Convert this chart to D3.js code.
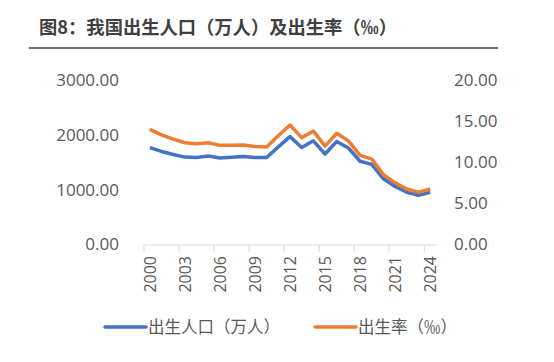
<!DOCTYPE html>
<html>
<head>
<meta charset="utf-8">
<script src="https://cdn.jsdelivr.net/npm/d3@7"></script>
<style>
  body { margin: 0; background: #fff; }
  svg { display: block; }
  .tick text { fill: #595959; }
</style>
</head>
<body>
<svg id="chart"></svg>
<script>
// data
const years = d3.range(2000, 2025);
const births = [1771, 1702, 1647, 1599, 1593, 1617, 1584, 1594, 1608, 1591, 1592,
  1785, 1973, 1776, 1897, 1655, 1883, 1765, 1523, 1465, 1202, 1062, 956, 902, 954];
const birthRate = [14.03, 13.38, 12.86, 12.41, 12.29, 12.40, 12.09, 12.10, 12.14, 11.95, 11.90,
  13.27, 14.57, 13.03, 13.83, 11.99, 13.57, 12.64, 10.86, 10.41, 8.52, 7.52, 6.77, 6.39, 6.77];
const leftTicks = [0, 1000, 2000, 3000];
const rightTicks = [0, 5, 10, 15, 20];
const labelYears = [2000, 2003, 2006, 2009, 2012, 2015, 2018, 2021, 2024];

const W = 554, H = 362;
const font = "'Open Sans', 'Noto Sans CJK SC', sans-serif";
const cjk = "'Noto Sans CJK SC', sans-serif";

const svg = d3.select("#chart").attr("width", W).attr("height", H);

// title + rule
svg.append("text")
  .attr("x", 39).attr("y", 34)
  .attr("font-family", cjk).attr("font-weight", "bold")
  .attr("font-size", 18.3).attr("fill", "#404040")
  .text("图8：我国出生人口（万人）及出生率（‰）");
svg.append("line")
  .attr("x1", 29).attr("x2", 498).attr("y1", 48).attr("y2", 48)
  .attr("stroke", "#404040").attr("stroke-width", 1.5);

const x = d3.scaleBand().domain(years).range([144, 436]).padding(0);
const cx = d => x(d) + x.bandwidth() / 2;
const yL = d3.scaleLinear().domain([0, 3000]).range([244.5, 80.5]);
const yR = d3.scaleLinear().domain([0, 20]).range([244.5, 80.5]);

// left axis
const gL = svg.append("g").attr("transform", "translate(119,0)")
  .call(d3.axisLeft(yL).tickValues(leftTicks).tickFormat(d3.format(".2f")).tickSize(0).tickPadding(0));
gL.select(".domain").remove();
gL.selectAll("text").attr("font-family", font).attr("font-size", 17);

// right axis
const gR = svg.append("g").attr("transform", "translate(454,0)")
  .call(d3.axisRight(yR).tickValues(rightTicks).tickFormat(d3.format(".2f")).tickSize(0).tickPadding(0));
gR.select(".domain").remove();
gR.selectAll("text").attr("font-family", font).attr("font-size", 17);

// x axis
const gX = svg.append("g");
gX.append("line")
  .attr("x1", 144).attr("x2", 436).attr("y1", 245).attr("y2", 245)
  .attr("stroke", "#d9d9d9").attr("stroke-width", 1);
gX.selectAll("line.tk")
  .data(labelYears)
  .join("line")
  .attr("class", "tk")
  .attr("x1", d => x(d)).attr("x2", d => x(d))
  .attr("y1", 245).attr("y2", 252)
  .attr("stroke", "#d9d9d9");
gX.selectAll("text")
  .data(labelYears)
  .join("text")
  .attr("transform", d => `translate(${cx(d) + 6},256) rotate(-90)`)
  .attr("text-anchor", "end")
  .attr("font-family", font).attr("font-size", 16).attr("fill", "#595959")
  .text(d => d);

// lines
const lineL = d3.line().x((d, i) => cx(years[i])).y(d => yL(d));
const lineR = d3.line().x((d, i) => cx(years[i])).y(d => yR(d));

svg.append("path").datum(births)
  .attr("d", lineL).attr("fill", "none")
  .attr("stroke", "#4472C4").attr("stroke-width", 3.5).attr("stroke-linejoin", "round");
svg.append("path").datum(birthRate)
  .attr("d", lineR).attr("fill", "none")
  .attr("stroke", "#ED7D31").attr("stroke-width", 3.5).attr("stroke-linejoin", "round");

// legend
const legend = [
  { name: "出生人口（万人）", color: "#4472C4", x: 105 },
  { name: "出生率（‰）", color: "#ED7D31", x: 315 }
];
const lg = svg.append("g").selectAll("g").data(legend).join("g")
  .attr("transform", d => `translate(${d.x},327)`);
lg.append("line").attr("x1", 0).attr("x2", 41).attr("y1", 0).attr("y2", 0)
  .attr("stroke", d => d.color).attr("stroke-width", 3.5).attr("stroke-linecap", "round");
lg.append("text").attr("x", 43).attr("y", 0).attr("dy", "0.36em")
  .attr("font-family", cjk).attr("font-size", 16.5).attr("fill", "#595959")
  .text(d => d.name);
</script>
</body>
</html>
